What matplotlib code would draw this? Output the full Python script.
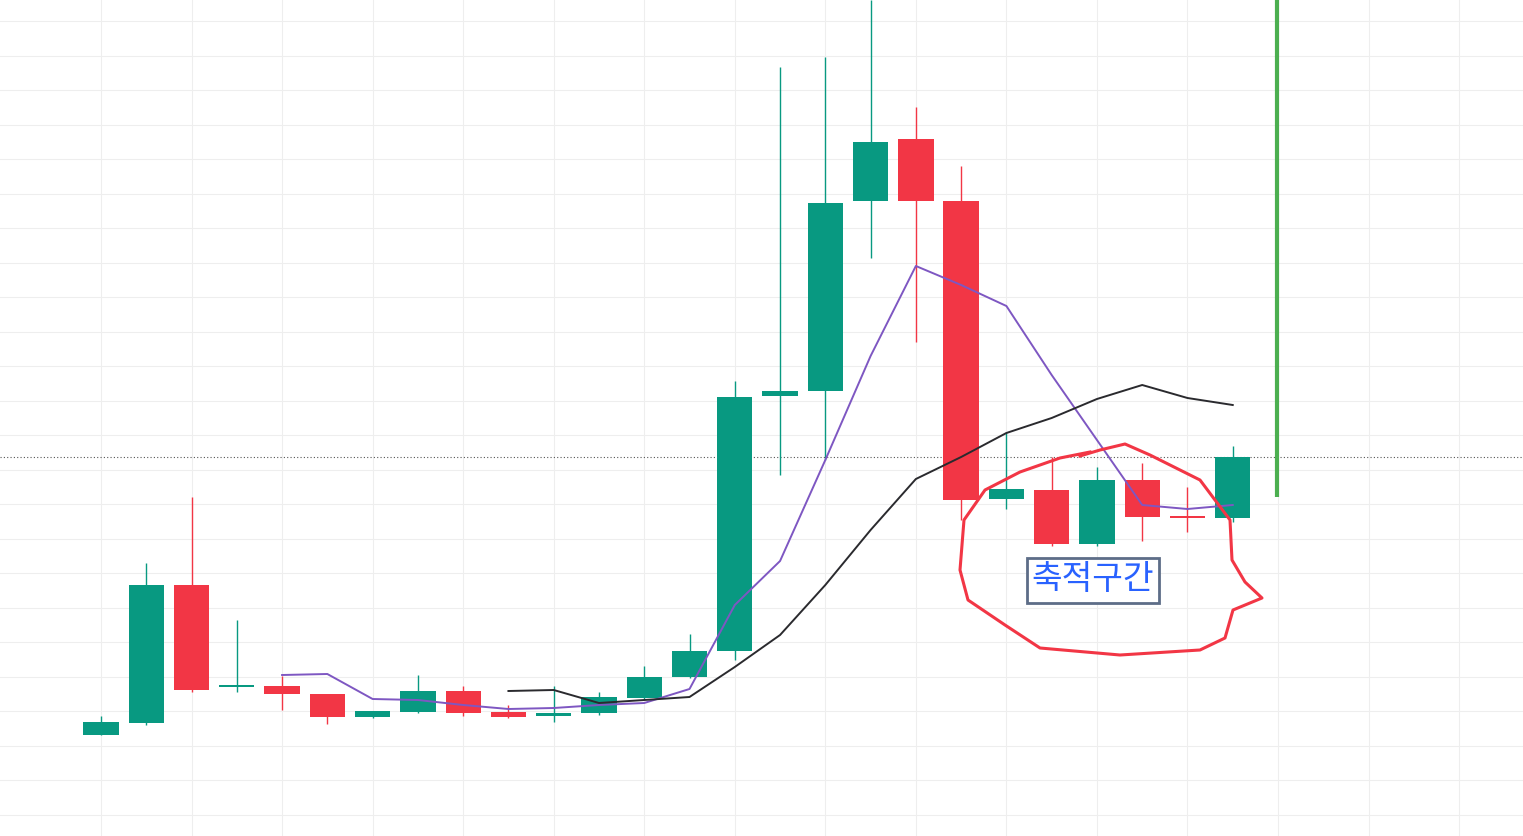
import matplotlib
matplotlib.use("Agg")
import matplotlib.pyplot as plt
import numpy as np

H = 836
# price values expressed as chart height units (higher = up)
opens  = [735,723,585,687,686,694,717,712,691,712,716,713,698,677,651,396,391,201,139,201,499,490,544,480,516,518]
closes = [722,585,690,686,694,717,711,691,713,717,713,697,677,651,397,391,203,142,201,500,489,544,480,517,518,457]
highs  = [716,563,497,620,676,694,711,675,686,705,686,692,666,634,381,67,57,0,107,166,432,457,467,463,487,446]
lows   = [735,725,692,692,710,724,718,713,716,718,722,715,699,678,660,475,460,258,342,520,509,546,546,541,532,522]
opens=[H-v for v in opens]; closes=[H-v for v in closes]; highs=[H-v for v in highs]; lows=[H-v for v in lows]

ma_fast_start = 4
ma_fast = [675,674,699,700,705,709,708,705,703,689,605,561,460,356,266,285,306,375,440,505,509,505]
ma_slow_start = 9
ma_slow = [691,690,703,700,697,667,635,585,530,479,457,433,418,399,385,398,405]
ma_fast=[H-v for v in ma_fast]; ma_slow=[H-v for v in ma_slow]

GREEN="#089981"; RED="#F23645"
fig = plt.figure(figsize=(15.23,8.36), dpi=100)
ax = fig.add_axes([0,0,1,1])
step=45.27
ax.set_xlim(-101/step, (1523-101)/step)
ax.set_ylim(0,H)
for xg in np.arange(0,32,2):
    ax.axvline(xg,color="#eeeeee",lw=0.8,zorder=0)
for yg in np.arange(H-21,0,-34.5):
    ax.axhline(yg,color="#eeeeee",lw=0.8,zorder=0)
ax.axhline(H-457,color="#555555",lw=0.8,ls=(0,(1,2)),zorder=1)

for i,(o,c,h,l) in enumerate(zip(opens,closes,highs,lows)):
    col = GREEN if c>=o else RED
    ax.vlines(i,l,h,color=col,lw=1,zorder=2)
    b=max(abs(c-o),2)
    ax.bar(i,b,bottom=min(o,c),width=0.78,color=col,zorder=3)

ax.plot(np.arange(ma_fast_start,ma_fast_start+len(ma_fast)),ma_fast,color="#7E57C2",lw=1.4,zorder=4)
ax.plot(np.arange(ma_slow_start,ma_slow_start+len(ma_slow)),ma_slow,color="#2a2a2e",lw=1.4,zorder=4)

ax.vlines((1277-101)/step,H-497,H,color="#4CAF50",lw=3,zorder=4)

pts=[(1090,452),(1060,458),(1020,472),(985,490),(964,520),(960,570),(968,600),(1005,625),(1040,648),(1120,655),(1200,650),(1225,638),(1233,610),(1262,598),(1245,582),(1232,560),(1230,520),(1200,480),(1150,455),(1125,444),(1100,450),(1080,456)]
px=[(x-101)/step for x,y in pts]; py=[H-y for x,y in pts]
ax.plot(px,py,color=RED,lw=2.2,zorder=5)

ax.text((1093-101)/step,H-580,"축적구간",fontsize=24,color="#2962FF",ha="center",va="center",
        family=["Noto Sans CJK KR","DejaVu Sans"],zorder=6,
        bbox=dict(boxstyle="square,pad=0.15",fc="white",ec="#5d6d87",lw=2))
ax.axis("off")
fig.savefig("out.png",dpi=100)
